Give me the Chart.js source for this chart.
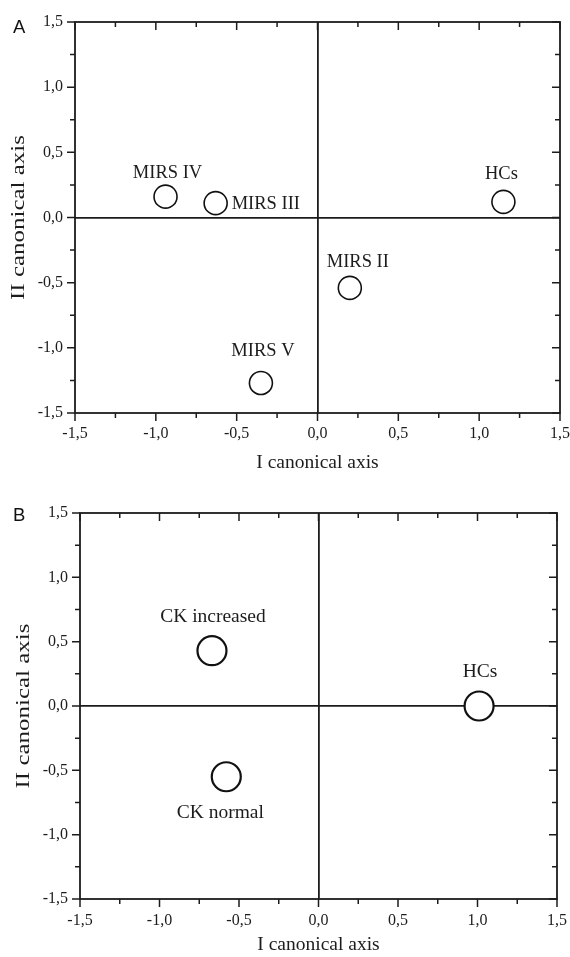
<!DOCTYPE html>
<html>
<head>
<meta charset="utf-8">
<script src="https://cdn.jsdelivr.net/npm/chart.js@4.4.0/dist/chart.umd.min.js"></script>
<style>
	html, body { margin: 0; padding: 0; background: #fff; }
	body { width: 570px; height: 957px; position: relative; overflow: hidden; }
	.panel { position: absolute; left: 0; width: 570px; }
	#panelA { top: 0; height: 478px; }
	#panelB { top: 478px; height: 479px; }
	.letter { position: absolute; font-family: 'Liberation Sans', Arial, sans-serif; font-size: 18.5px; line-height: 1; color: #111; }
</style>
</head>
<body>
<div class="panel" id="panelA"><canvas id="chartA"></canvas></div>
<div class="panel" id="panelB"><canvas id="chartB"></canvas></div>
<div class="letter" style="left:13px;top:18px">A</div>
<div class="letter" style="left:13px;top:506px">B</div>

<script>
// DATA (canonical scores of group centroids)
const groupsA = ['MIRS IV', 'MIRS III', 'HCs', 'MIRS II', 'MIRS V'];
const axis1A = [-0.94, -0.63, 1.15, 0.20, -0.35];
const axis2A = [0.16, 0.11, 0.12, -0.54, -1.27];

const groupsB = ['CK increased', 'HCs', 'CK normal'];
const axis1B = [-0.67, 1.01, -0.58];
const axis2B = [0.43, 0.00, -0.55];

const tickValues = [-1.5, -1.0, -0.5, 0, 0.5, 1.0, 1.5];
const tickLabels = ['-1,5', '-1,0', '-0,5', '0,0', '0,5', '1,0', '1,5'];

const ink = '#1c1c1c';
const serif = "'Liberation Serif', 'Times New Roman', serif";

// frame round the plot + major/minor ticks on all four sides (all pointing left/down, like Origin)
const framePlugin = {
	id: 'frame',
	afterDraw(chart) {
		const {ctx, chartArea: a, scales: {x, y}} = chart;
		const major = 8, minor = 5;
		const withMinor = vals => {
			const out = [];
			vals.forEach((v, i) => {
				out.push([v, major]);
				if (i < vals.length - 1) out.push([(v + vals[i + 1]) / 2, minor]);
			});
			return out;
		};
		ctx.save();
		ctx.strokeStyle = ink;
		ctx.lineWidth = 1.8;
		ctx.strokeRect(a.left, a.top, a.right - a.left, a.bottom - a.top);
		ctx.lineWidth = 1.5;
		ctx.beginPath();
		withMinor(x.ticks.map(t => t.value)).forEach(([v, len]) => {
			const px = x.getPixelForValue(v);
			ctx.moveTo(px, a.bottom); ctx.lineTo(px, a.bottom + len);
			ctx.moveTo(px, a.top); ctx.lineTo(px, a.top + len);
		});
		withMinor(y.ticks.map(t => t.value)).forEach(([v, len]) => {
			const py = y.getPixelForValue(v);
			ctx.moveTo(a.left, py); ctx.lineTo(a.left - len, py);
			ctx.moveTo(a.right, py); ctx.lineTo(a.right - len, py);
		});
		ctx.stroke();
		ctx.restore();
	}
};

// vertical axis title; in the figure it is stretched along its length
const yTitlePlugin = {
	id: 'yTitle',
	afterDraw(chart, args, opts) {
		const {ctx, chartArea: a} = chart;
		ctx.save();
		ctx.translate(opts.x, (a.top + a.bottom) / 2);
		ctx.rotate(-Math.PI / 2);
		ctx.scale(opts.stretch, 1);
		ctx.font = opts.size + 'px ' + serif;
		ctx.fillStyle = ink;
		ctx.textAlign = 'center';
		ctx.textBaseline = 'middle';
		ctx.fillText(opts.text, 0, 0);
		ctx.restore();
	}
};

// group names next to the circles
const pointLabels = {
	id: 'pointLabels',
	afterDatasetsDraw(chart, args, opts) {
		const {ctx} = chart;
		const meta = chart.getDatasetMeta(0);
		ctx.save();
		ctx.font = opts.size + 'px ' + serif;
		ctx.fillStyle = ink;
		ctx.textBaseline = 'middle';
		meta.data.forEach((pt, i) => {
			const [dx, dy, align] = opts.offsets[i];
			ctx.textAlign = align;
			ctx.fillText(chart.data.labels[i], pt.x + dx, pt.y + dy);
		});
		ctx.restore();
	}
};

function axis(title, titlePad, tickPad, fit) {
	return {
		type: 'linear',
		min: -1.5,
		max: 1.5,
		afterBuildTicks: scale => { scale.ticks = tickValues.map(v => ({value: v})); },
		afterFit: fit,
		border: {display: false},
		grid: {
			drawTicks: false,
			lineWidth: 1.8,
			color: c => (c.tick && c.tick.value === 0) ? ink : 'rgba(0,0,0,0)'
		},
		ticks: {
			color: ink,
			padding: tickPad,
			font: {family: serif, size: 16},
			callback: (v, i) => tickLabels[i]
		},
		title: {
			display: !!title,
			text: title,
			color: ink,
			padding: titlePad,
			font: {family: serif, size: 19.5}
		}
	};
}

function createPanel(canvasId, names, xs, ys, opts) {
	const data = {
		labels: names,
		datasets: [{
			data: xs.map((v, i) => ({x: v, y: ys[i]})),
			pointStyle: 'circle',
			pointRadius: opts.radius,
			pointBorderWidth: opts.stroke,
			pointBackgroundColor: '#fff',
			pointBorderColor: '#111',
			showLine: false,
			clip: false
		}]
	};

	const config = {
		type: 'scatter',
		data: data,
		options: {
			responsive: true,
			maintainAspectRatio: false,
			animation: false,
			events: [],
			layout: {padding: opts.padding, autoPadding: false},
			plugins: {
				legend: {display: false},
				tooltip: {enabled: false},
				pointLabels: {size: opts.labelSize, offsets: opts.offsets},
				yTitle: {text: 'II canonical axis', x: opts.yTitleX, size: 19.5, stretch: 1.28}
			},
			scales: {
				// fixed axis boxes so the plot area lands where it is in the figure
				x: axis('I canonical axis', {top: 0, bottom: opts.xTitlePad}, opts.xTickPad, s => {
					s.height = opts.xHeight;
					s.paddingLeft = 0;
					s.paddingRight = 0;
				}),
				y: axis('', 0, 12, s => {
					s.width = opts.yWidth;
					s.paddingTop = 0;
					s.paddingBottom = 0;
				})
			}
		},
		plugins: [framePlugin, pointLabels, yTitlePlugin]
	};

	return new Chart(document.getElementById(canvasId), config);
}

createPanel('chartA', groupsA, axis1A, axis2A, {
	padding: {top: 22, right: 10, left: 0, bottom: 0},
	yWidth: 75, xHeight: 65,
	xTitlePad: 3.5, yTitleX: 18.5, xTickPad: 11,
	radius: 11.5, stroke: 1.6, labelSize: 18.5,
	offsets: [[2, -24, 'center'], [16, 1, 'left'], [-2, -28, 'center'], [8, -26, 'center'], [2, -32, 'center']]
});

createPanel('chartB', groupsB, axis1B, axis2B, {
	padding: {top: 35, right: 13, left: 0, bottom: 0},
	yWidth: 80, xHeight: 58,
	xTitlePad: 0, yTitleX: 24, xTickPad: 12,
	radius: 14.5, stroke: 2.2, labelSize: 19.5,
	offsets: [[1, -34, 'center'], [1, -34, 'center'], [-6, 36, 'center']]
});
</script>
</body>
</html>
